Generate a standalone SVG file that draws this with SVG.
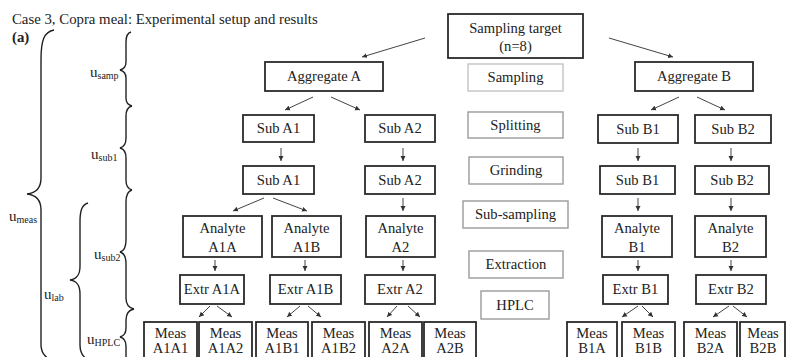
<svg xmlns="http://www.w3.org/2000/svg" width="786" height="357" viewBox="0 0 786 357">
<defs>
<marker id="ah" markerWidth="6" markerHeight="6" refX="5" refY="3" orient="auto" markerUnits="userSpaceOnUse">
<path d="M0,0.5 L5,3 L0,5.5 Z" fill="#333"/>
</marker>
<style>
text{font-family:"Liberation Serif","Times New Roman",serif;fill:#222}
.n rect{fill:#fff;stroke:#2a2a2a;stroke-width:1.8}
.s rect{fill:#fff;stroke:#9a9a9a;stroke-width:1.4}
.s.light rect{stroke:#c4c4c4}
.n text,.s text{font-size:14.6px;text-anchor:middle}
#connectors line{stroke:#444;stroke-width:1;marker-end:url(#ah)}
.br{fill:none;stroke:#222;stroke-width:1.4}
.lbl{font-size:15px}
.sub{font-size:10px}
</style>
</defs>
<rect width="786" height="357" fill="#fff"/>
<text x="12" y="24" style="font-size:14.8px">Case 3, Copra meal: Experimental setup and results</text>
<text x="12" y="42" style="font-size:14.8px;font-weight:bold">(a)</text>

<g id="braces">
<path class="br" d="M54,30 C44,32 41,40 41,60 L41,178 C41,188 36,193 27,194 C36,195 41,200 41,210 L41,345 C41,352 45,358 54,362"/>
<path class="br" d="M131,32 C127,33 126,37 126,42 L126,62 C126,67 124,69 120,70 C124,71 126,73 126,78 L126,98 C126,103 128,105 132,106"/>
<path class="br" d="M132,106 C128,107 126,110 126,116 L126,138 C126,144 124,147 120,148 C124,149 126,152 126,158 L126,180 C126,186 128,189 132,190"/>
<path class="br" d="M132,190 C128,191 126,195 126,202 L126,240 C126,247 124,251 120,252 C124,253 126,257 126,264 L126,298 C126,304 129,308 134,309"/>
<path class="br" d="M134,309 C129,310 126,314 126,320 L126,328 C126,334 124,336 120,337 C124,338 126,340 126,346 L126,360"/>
<path class="br" d="M88,203 C82,205 80,210 80,222 L80,266 C80,275 77,279 70,280 C77,281 80,285 80,294 L80,345 C80,352 83,357 88,360"/>
<text class="lbl" x="90" y="77">u<tspan class="sub" dy="2">samp</tspan></text>
<text class="lbl" x="91" y="159">u<tspan class="sub" dy="2">sub1</tspan></text>
<text class="lbl" x="94" y="259">u<tspan class="sub" dy="2">sub2</tspan></text>
<text class="lbl" x="87" y="344">u<tspan class="sub" dy="2">HPLC</tspan></text>
<text class="lbl" x="44" y="299">u<tspan class="sub" dy="2">lab</tspan></text>
<text class="lbl" x="9" y="221">u<tspan class="sub" dy="2">meas</tspan></text>
</g>

<g id="connectors">
<line x1="425" y1="38" x2="362" y2="57"/>
<line x1="609" y1="38" x2="673" y2="57"/>
<line x1="313" y1="97" x2="285" y2="110"/>
<line x1="331" y1="97" x2="360" y2="110"/>
<line x1="679" y1="97" x2="651" y2="110"/>
<line x1="697" y1="97" x2="725" y2="110"/>
<line x1="281" y1="148" x2="281" y2="161"/>
<line x1="403" y1="148" x2="403" y2="161"/>
<line x1="638" y1="148" x2="638" y2="161"/>
<line x1="731" y1="148" x2="731" y2="161"/>
<line x1="264" y1="198" x2="233" y2="211"/>
<line x1="273" y1="198" x2="307" y2="211"/>
<line x1="403" y1="198" x2="403" y2="211"/>
<line x1="638" y1="198" x2="638" y2="211"/>
<line x1="731" y1="198" x2="731" y2="211"/>
<line x1="215" y1="260" x2="215" y2="271"/>
<line x1="305" y1="260" x2="305" y2="271"/>
<line x1="403" y1="260" x2="403" y2="271"/>
<line x1="638" y1="260" x2="638" y2="271"/>
<line x1="731" y1="260" x2="731" y2="271"/>
<line x1="210" y1="306" x2="199" y2="317"/>
<line x1="217" y1="306" x2="232" y2="317"/>
<line x1="300" y1="306" x2="287" y2="317"/>
<line x1="308" y1="306" x2="321" y2="317"/>
<line x1="397" y1="306" x2="387" y2="317"/>
<line x1="408" y1="306" x2="420" y2="317"/>
<line x1="638" y1="306" x2="622" y2="317"/>
<line x1="642" y1="306" x2="653" y2="317"/>
<line x1="729" y1="306" x2="713" y2="317"/>
<line x1="733" y1="306" x2="747" y2="317"/>
</g>

<g id="target" class="n"><rect x="448" y="14" width="135" height="44"/><text x="515.5" y="33">Sampling target</text><text x="515.5" y="51">(n=8)</text></g>
<g id="aggA" class="n"><rect x="265" y="62" width="118" height="29"/><text x="324" y="81">Aggregate A</text></g>
<g id="aggB" class="n"><rect x="635" y="62" width="118" height="29"/><text x="694" y="81">Aggregate B</text></g>

<g id="subA1a" class="n"><rect x="243" y="115" width="71" height="27"/><text x="278.5" y="133">Sub A1</text></g>
<g id="subA2a" class="n"><rect x="365" y="115" width="70" height="27"/><text x="400" y="133">Sub A2</text></g>
<g id="subB1a" class="n"><rect x="598" y="115" width="80" height="28"/><text x="638" y="134">Sub B1</text></g>
<g id="subB2a" class="n"><rect x="695" y="115" width="76" height="28"/><text x="733" y="134">Sub B2</text></g>

<g id="subA1b" class="n"><rect x="243" y="166" width="71" height="28"/><text x="278.5" y="185">Sub A1</text></g>
<g id="subA2b" class="n"><rect x="365" y="166" width="70" height="28"/><text x="400" y="185">Sub A2</text></g>
<g id="subB1b" class="n"><rect x="600" y="166" width="75" height="28"/><text x="637.5" y="185">Sub B1</text></g>
<g id="subB2b" class="n"><rect x="695" y="166" width="74" height="28"/><text x="732" y="185">Sub B2</text></g>

<g id="anA1A" class="n"><rect x="183" y="216" width="79" height="41"/><text x="222.5" y="233">Analyte</text><text x="222.5" y="252">A1A</text></g>
<g id="anA1B" class="n"><rect x="272" y="216" width="69" height="41"/><text x="306.5" y="233">Analyte</text><text x="306.5" y="252">A1B</text></g>
<g id="anA2" class="n"><rect x="366" y="216" width="69" height="41"/><text x="400.5" y="233">Analyte</text><text x="400.5" y="252">A2</text></g>
<g id="anB1" class="n"><rect x="602" y="216" width="70" height="41"/><text x="637" y="233">Analyte</text><text x="637" y="252">B1</text></g>
<g id="anB2" class="n"><rect x="695" y="216" width="71" height="41"/><text x="730.5" y="233">Analyte</text><text x="730.5" y="252">B2</text></g>

<g id="exA1A" class="n"><rect x="180" y="275" width="64" height="29"/><text x="212" y="294">Extr A1A</text></g>
<g id="exA1B" class="n"><rect x="270" y="275" width="71" height="29"/><text x="305.5" y="294">Extr A1B</text></g>
<g id="exA2" class="n"><rect x="365" y="275" width="70" height="29"/><text x="400" y="294">Extr A2</text></g>
<g id="exB1" class="n"><rect x="603" y="275" width="65" height="29"/><text x="635.5" y="294">Extr B1</text></g>
<g id="exB2" class="n"><rect x="696" y="275" width="70" height="29"/><text x="731" y="294">Extr B2</text></g>

<g id="mA1A1" class="n"><rect x="144" y="322" width="53" height="48"/><text x="170.5" y="338">Meas</text><text x="170.5" y="353">A1A1</text></g>
<g id="mA1A2" class="n"><rect x="199" y="322" width="53" height="48"/><text x="225.5" y="338">Meas</text><text x="225.5" y="353">A1A2</text></g>
<g id="mA1B1" class="n"><rect x="256" y="322" width="52" height="48"/><text x="282" y="338">Meas</text><text x="282" y="353">A1B1</text></g>
<g id="mA1B2" class="n"><rect x="312" y="322" width="53" height="48"/><text x="338.5" y="338">Meas</text><text x="338.5" y="353">A1B2</text></g>
<g id="mA2A" class="n"><rect x="369" y="322" width="53" height="48"/><text x="395.5" y="338">Meas</text><text x="395.5" y="353">A2A</text></g>
<g id="mA2B" class="n"><rect x="424" y="322" width="52" height="48"/><text x="450" y="338">Meas</text><text x="450" y="353">A2B</text></g>
<g id="mB1A" class="n"><rect x="567" y="322" width="50" height="48"/><text x="592" y="338">Meas</text><text x="592" y="353">B1A</text></g>
<g id="mB1B" class="n"><rect x="622" y="322" width="53" height="48"/><text x="648.5" y="338">Meas</text><text x="648.5" y="353">B1B</text></g>
<g id="mB2A" class="n"><rect x="684" y="322" width="53" height="48"/><text x="710.5" y="338">Meas</text><text x="710.5" y="353">B2A</text></g>
<g id="mB2B" class="n"><rect x="740" y="322" width="45" height="48"/><text x="763" y="338">Meas</text><text x="763" y="353">B2B</text></g>

<g id="stepSampling" class="s light"><rect x="468" y="64" width="95" height="27"/><text x="515.5" y="82">Sampling</text></g>
<g id="stepSplitting" class="s"><rect x="468" y="112" width="95" height="26"/><text x="515.5" y="130">Splitting</text></g>
<g id="stepGrinding" class="s"><rect x="469" y="157" width="94" height="27"/><text x="516" y="175">Grinding</text></g>
<g id="stepSubsampling" class="s"><rect x="463" y="201" width="105" height="27"/><text x="515.5" y="219">Sub-sampling</text></g>
<g id="stepExtraction" class="s"><rect x="469" y="251" width="94" height="27"/><text x="516" y="269">Extraction</text></g>
<g id="stepHPLC" class="s"><rect x="481" y="291" width="68" height="28"/><text x="515" y="310">HPLC</text></g>
</svg>
